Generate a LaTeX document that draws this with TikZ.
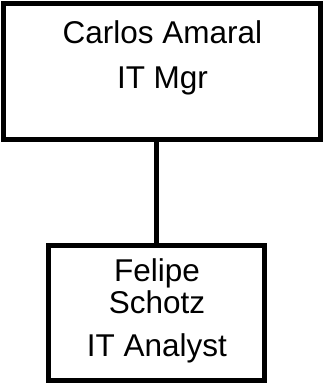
\documentclass[tikz,border=0pt]{standalone}
\usepackage{fontspec}
\setmainfont{Liberation Sans}
\usetikzlibrary{positioning}
\tikzset{
  orgbox/.style= {
    rectangle,
    draw,
    line width = 5pt,
    inner sep = 0pt,
    outer sep = 0pt
  },
  orgtext/.style= {
    anchor = base,
    inner sep = 0pt,
    font = \fontsize{31.5}{34}\selectfont
  }
}

\begin{document}
\begin{tikzpicture}[x=1pt,y=-1pt]
  \useasboundingbox (0,0) rectangle (323,384);

  % manager
  \node[orgbox,minimum width=316pt,minimum height=136pt] (mgr) at (162,71) {};
  \node[orgtext] (mgrname) at (162.5,43) {Carlos Amaral};
  \node[orgtext] (mgrrole) at (162.5,88) {IT Mgr};

  % analyst
  \node[orgbox,minimum width=215.5pt,minimum height=135.5pt] (analyst) at (156.25,312.75) {};
  \node[orgtext] (analystfirst) at (157,281) {Felipe};
  \node[orgtext] (analystlast) at (157,313) {Schotz};
  \node[orgtext] (analystrole) at (157,356) {IT Analyst};

  \draw[line width=5pt] (analyst.north) -- (analyst.north |- mgr.south);

\end{tikzpicture}
\end{document}
